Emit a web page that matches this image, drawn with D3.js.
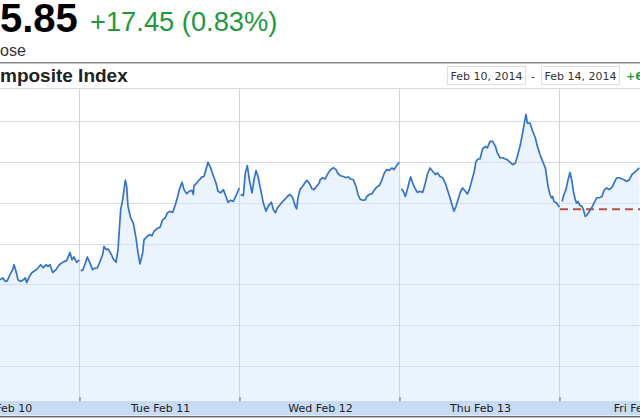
<!DOCTYPE html>
<html><head><meta charset="utf-8">
<script src="https://cdn.jsdelivr.net/npm/d3@7"></script>
<style>
html,body{margin:0;padding:0;background:#fff;overflow:hidden}
svg{display:block}
</style></head>
<body>
<svg id="c" width="640" height="420"></svg>
<script>
// ---- data (minutes into each trading session, index value) ----
const dayLabels = ["Mon Feb 10","Tue Feb 11","Wed Feb 12","Thu Feb 13","Fri Feb 14"];
const gridValues = [2060,2070,2080,2090,2100,2110,2120];
const prevClose = 2098.40;
const headerPrice = "5.85";
const headerChange = "+17.45 (0.83%)";
const headerSub = "ose";
const chartTitle = "mposite Index";
const rangeFrom = "Feb 10, 2014";
const rangeTo = "Feb 14, 2014";
const rangeChange = "+6";

const monT = [120,124,128,131,135,139,141,144,147,151,155,158,160,164,168,171,176,181,185,189,192,195,199,204,209,215,220,225,228,231,235,239];
const monV = [2081.1,2081.6,2080.7,2080.9,2082.4,2083.6,2084.8,2083.2,2081.1,2080.7,2081.1,2081.6,2080.4,2081.9,2082.9,2083.2,2083.8,2084.8,2084.1,2084.8,2084.4,2084.8,2082.9,2083.6,2084.8,2085.5,2085.8,2087.8,2086.0,2086.7,2085.4,2086.0];
const tueT = [1,4,8,11,15,19,23,26,30,34,36,39,42,47,50,54,57,61,64,68,70,72,76,80,84,87,90,94,96,100,104,108,111,115,120,124,128,131,135,139,143,146,149,153,156,160,164,168,170,171,175,179,183,186,189,192,196,200,204,207,211,215,219,222,226,230,234,239];
const tueV = [2083.4,2083.4,2085.2,2086.7,2085.2,2083.6,2084.0,2084.0,2085.6,2087.3,2089.3,2088.5,2088.7,2087.3,2086.2,2085.4,2088.5,2098.3,2100.7,2105.5,2104.0,2099.1,2096.3,2095.0,2091.4,2087.7,2085.0,2087.7,2090.9,2091.6,2092.2,2091.9,2093.0,2093.6,2094.0,2095.8,2096.3,2097.5,2097.9,2097.6,2099.5,2101.2,2103.2,2105.0,2103.2,2102.2,2102.8,2103.0,2102.0,2104.2,2104.8,2105.6,2106.3,2106.4,2108.1,2109.9,2108.5,2106.6,2104.8,2102.8,2102.4,2103.2,2101.5,2100.1,2100.6,2100.3,2101.7,2103.6];
const wedT = [1,5,8,11,14,18,21,24,27,31,35,39,42,47,50,53,56,60,64,68,71,75,79,83,85,87,90,94,98,100,104,108,111,115,119,120,124,128,131,135,140,144,147,151,155,159,162,166,170,174,177,180,184,188,190,194,198,201,205,209,213,216,220,224,228,231,234,239];
const wedV = [2102.0,2101.7,2107.3,2109.1,2105.6,2102.4,2105.6,2107.9,2106.4,2103.2,2099.9,2097.9,2099.1,2100.1,2098.3,2097.5,2098.7,2099.5,2100.3,2100.9,2101.5,2102.0,2101.2,2099.1,2098.5,2101.2,2103.2,2104.0,2105.0,2105.5,2104.8,2103.4,2103.2,2104.0,2104.8,2105.6,2106.1,2105.8,2106.9,2107.9,2108.6,2108.1,2107.1,2106.6,2106.4,2106.1,2106.3,2105.8,2105.6,2104.0,2102.0,2100.9,2100.6,2100.7,2101.5,2102.0,2102.2,2103.0,2103.8,2104.2,2105.6,2107.1,2108.1,2107.9,2108.5,2108.1,2108.9,2109.9];
const thuT = [2,5,8,11,14,16,19,23,26,30,34,38,41,45,49,53,56,60,64,68,71,75,78,81,84,87,91,94,98,101,104,108,111,114,117,120,124,128,131,135,139,143,146,150,154,158,161,165,169,173,176,180,184,187,189,191,195,199,203,206,210,214,218,220,222,225,227,229,231,235,239];
const thuV = [2103.4,2102.8,2101.5,2103.2,2105.2,2106.3,2104.8,2103.4,2102.5,2102.8,2102.5,2104.8,2106.9,2108.5,2107.7,2106.9,2107.3,2106.4,2106.1,2104.8,2103.2,2101.2,2099.5,2097.9,2099.1,2100.7,2102.8,2103.6,2102.8,2102.1,2103.2,2105.6,2107.3,2110.1,2110.7,2110.7,2113.2,2113.8,2113.4,2115.0,2115.0,2113.8,2112.2,2111.0,2111.0,2110.7,2110.5,2109.9,2109.3,2109.7,2111.3,2113.8,2117.1,2119.9,2121.6,2119.5,2119.5,2117.5,2115.9,2113.8,2111.8,2110.1,2108.5,2106.4,2104.0,2102.0,2101.2,2101.5,2100.3,2099.9,2098.9];
const friT = [3,6,9,12,15,18,20,23,25,27,30,33,35,38,41,44,48,51,55,59,63,66,70,74,78,81,85,89,93,96,100,104,108,111,115,119];
const friV = [2100.3,2102.0,2103.2,2105.6,2107.4,2105.2,2102.8,2100.7,2099.9,2100.3,2099.3,2099.1,2098.3,2096.6,2097.1,2097.9,2098.9,2099.9,2101.2,2101.2,2101.5,2103.0,2103.6,2103.2,2103.8,2104.8,2106.1,2106.1,2105.8,2105.6,2105.2,2105.6,2106.9,2107.3,2107.9,2108.5];

const sessionMinutes = 240;
const days = [[monT,monV],[tueT,tueV],[wedT,wedV],[thuT,thuV],[friT,friV]].map(([t,v],d) =>
  t.slice(0, Math.min(t.length, v.length)).map((m,i) => ({ t: d*sessionMinutes + m, v: v[i] })));

// ---- layout ----
const W = 640, H = 420;
const plotTop = 89, plotBottom = 401;
const svg = d3.select("#c");

const x = d3.scaleLinear().domain([0, 5*sessionMinutes]).range([-80, 720]);
const y = d3.scaleLinear().domain([2060, 2120]).range([366, 121]);

// header
svg.append("rect").attr("x",0).attr("y",0).attr("width",W).attr("height",H).attr("fill","#fff");
svg.append("text").attr("x",0).attr("y",32).attr("font-family","Liberation Sans, Arial, sans-serif")
  .attr("font-weight","bold").attr("font-size",40).attr("fill","#000").text(headerPrice);
svg.append("text").attr("x",90).attr("y",31).attr("font-family","Liberation Sans, Arial, sans-serif")
  .attr("font-size",27.3).attr("fill","#1e9a3c").text(headerChange);
svg.append("text").attr("x",0).attr("y",56).attr("font-family","Liberation Sans, Arial, sans-serif")
  .attr("font-size",16).attr("fill","#333").text(headerSub);
svg.append("line").attr("x1",0).attr("x2",W).attr("y1",62.8).attr("y2",62.8)
  .attr("stroke","#8a8a8a").attr("stroke-width",1.5);
svg.append("text").attr("x",0).attr("y",82).attr("font-family","Liberation Sans, Arial, sans-serif")
  .attr("font-weight","bold").attr("font-size",19).attr("fill","#222").text(chartTitle);

const boxFont = "DejaVu Sans, Verdana, sans-serif";
[[447.5,rangeFrom],[541.5,rangeTo]].forEach(([bx,txt]) => {
  svg.append("rect").attr("x",bx).attr("y",66.5).attr("width",78).attr("height",18)
    .attr("fill","#fff").attr("stroke","#dedede");
  svg.append("text").attr("x",bx+3).attr("y",80).attr("font-family",boxFont).attr("font-size",11)
    .attr("fill","#333").text(txt);
});
svg.append("text").attr("x",531).attr("y",80).attr("font-family",boxFont).attr("font-size",11)
  .attr("fill","#333").text("-");
svg.append("text").attr("x",626).attr("y",80).attr("font-family",boxFont).attr("font-size",11)
  .attr("font-weight","bold").attr("fill","#1e9a3c").text(rangeChange);

// plot
const plot = svg.append("g");
plot.append("line").attr("x1",0).attr("x2",W).attr("y1",plotTop-0.5).attr("y2",plotTop-0.5)
  .attr("stroke","#d8d8d8");

const allPts = days.flat();
const area = d3.area().x(d => x(d.t)).y0(plotBottom).y1(d => y(d.v));
plot.append("path").datum(allPts).attr("d", area).attr("fill","#ebf4fe");

// horizontal grid
plot.selectAll("line.hg").data(gridValues).join("line").attr("class","hg")
  .attr("x1",0).attr("x2",W).attr("y1",d => Math.round(y(d))+0.5).attr("y2",d => Math.round(y(d))+0.5)
  .attr("stroke","#d9dced").attr("stroke-width",1);
// vertical grid at day boundaries
const boundaries = [1,2,3,4].map(d => d*sessionMinutes);
plot.selectAll("line.vg").data(boundaries).join("line").attr("class","vg")
  .attr("x1",d => Math.round(x(d))-0.5).attr("x2",d => Math.round(x(d))-0.5)
  .attr("y1",plotTop).attr("y2",plotBottom).attr("stroke","#d0d3dc");

// previous close
plot.append("line").attr("x1",x(4*sessionMinutes)).attr("x2",W)
  .attr("y1",y(prevClose)).attr("y2",y(prevClose))
  .attr("stroke","#b9503f").attr("stroke-width",2).attr("stroke-dasharray","8,5");

// lines per session
const line = d3.line().x(d => x(d.t)).y(d => y(d.v));
plot.selectAll("path.ln").data(days).join("path").attr("class","ln")
  .attr("d", line).attr("fill","none").attr("stroke","#3373cc").attr("stroke-width",1.7)
  .attr("stroke-linejoin","round");

// bottom axis band
svg.append("rect").attr("x",0).attr("y",plotBottom).attr("width",W).attr("height",415.5-plotBottom)
  .attr("fill","#c7dbf4");
svg.append("line").attr("x1",0).attr("x2",W).attr("y1",416.7).attr("y2",416.7)
  .attr("stroke","#6e6e6e").attr("stroke-width",1.6);

const tickAxis = d3.axisBottom(x).tickValues(boundaries).tickSizeInner(-4).tickSizeOuter(0).tickFormat("");
const tg = svg.append("g").attr("transform",`translate(-0.5,${plotBottom})`).call(tickAxis);
tg.select(".domain").remove();
tg.selectAll("line").attr("stroke","#666");

const labelAxis = d3.axisBottom(x).tickValues([0,1,2,3,4].map(d => d*sessionMinutes + sessionMinutes/2))
  .tickSize(0).tickFormat((d,i) => dayLabels[i]);
const lg = svg.append("g").attr("transform",`translate(0,${plotBottom})`).call(labelAxis);
lg.select(".domain").remove();
lg.selectAll("text").attr("y",3).attr("dy","0.71em").attr("font-family",boxFont).attr("font-size",11).attr("fill","#222");
</script>
</body></html>
